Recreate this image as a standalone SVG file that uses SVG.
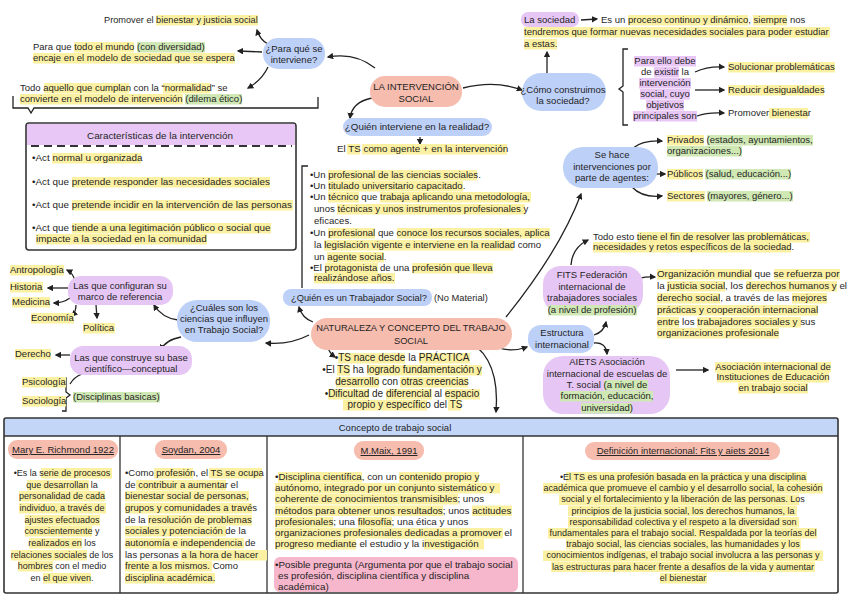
<svg xmlns="http://www.w3.org/2000/svg" width="848" height="599" viewBox="0 0 848 599">
<defs>
<marker id="ah" viewBox="0 0 10 10" refX="8" refY="5" markerWidth="6.5" markerHeight="6.5" markerUnits="userSpaceOnUse" orient="auto"><path d="M0,0 L10,5 L0,10 z" fill="#222"/></marker>
<style>
.t{font-family:"Liberation Sans",Arial,sans-serif;font-size:9.5px;fill:#1f1f1f}
.c{text-anchor:middle}
.u{text-decoration:underline}
.hy{fill:#fcf1a2}
.hg{fill:#cfe8b4}
.hp{fill:#e8c7f6}
.nb{fill:#bdd0f8}
.ns{fill:#f6bcae}
.np{fill:#e6c6f5}
.cn{fill:none;stroke:#222;stroke-width:1.3;marker-end:url(#ah)}
.ln{fill:none;stroke:#222;stroke-width:1.3}
</style>
</defs>
<rect width="848" height="599" fill="#ffffff"/>

<!-- connectors -->
<g id="connectors">
<path class="cn" d="M268,44 Q260,40 257,30"/>
<path class="cn" d="M262,52 L238,51"/>
<path class="cn" d="M268,67 Q262,80 248,88"/>
<path class="cn" d="M375,68 Q355,52 328,57"/>
<path class="cn" d="M463,88 Q495,80 522,90"/>
<path class="cn" d="M372,98 Q352,102 350,118"/>
<path class="cn" d="M420,137 L420,144"/>
<path class="cn" d="M581,20 L597,19"/>
<path class="cn" d="M547,75 L547,52"/>
<path class="cn" d="M695,72 Q708,66 724,67"/>
<path class="cn" d="M695,90 L724,90"/>
<path class="cn" d="M697,116 Q708,112 724,113"/>
<path class="cn" d="M633,148 Q643,140 662,141"/>
<path class="cn" d="M656,174 L665,174"/>
<path class="cn" d="M632,187 Q642,198 662,196"/>
<path class="cn" d="M506,317 Q560,250 581,194"/>
<path class="cn" d="M571,265 Q572,248 588,240"/>
<path class="cn" d="M632,282 Q640,276 655,277"/>
<path class="cn" d="M594,335 Q604,332 606,322"/>
<path class="cn" d="M594,343 Q606,342 607,354"/>
<path class="cn" d="M676,370 L708,370"/>
<path class="cn" d="M313,322 Q302,318 299,307"/>
<path class="cn" d="M328,346 Q328,352 335,357"/>
<path class="cn" d="M485,341 Q505,355 527,347"/>
<path class="cn" d="M470,342 Q500,360 496,412"/>
<path class="cn" d="M309,335 Q290,345 266,343"/>
<path class="cn" d="M178,320 Q162,318 154,305"/>
<path class="cn" d="M181,337 Q165,340 161,350"/>
<path class="cn" d="M75,281 Q73,273 67,270"/>
<path class="cn" d="M68,288 L48,288"/>
<path class="cn" d="M70,298 Q63,303 54,303"/>
<path class="cn" d="M76,305 Q76,312 72,316"/>
<path class="cn" d="M96,305 L97,318"/>
<path class="cn" d="M70,355 L56,355"/>
<path class="ln" d="M70,384 Q74,377 82,374"/>
<!-- brackets -->
<path class="ln" d="M13,96 L13,108 L28,108 L31,113 L34,108 L318,108 L318,97"/>
<path class="ln" d="M628,49 L623,49 L623,86 L619,89 L623,92 L623,125 L628,125"/>
<path class="ln" d="M308,166 L302,166 L302,288"/>
<path class="ln" d="M62,378 L66,378 L66,392 L70,395 L66,398 L66,411 L62,411"/>
</g>

<!-- top-left annotations -->
<g id="para-que-notes">
<rect class="hy" x="156" y="15" width="102" height="10.5"/>
<rect class="hy" x="74" y="42" width="60" height="10.5"/>
<rect class="hg" x="137" y="42" width="68" height="10.5"/>
<rect class="hy" x="33" y="53" width="202" height="10.5"/>
<rect class="hy" x="44" y="83" width="85" height="10.5"/>
<rect class="hy" x="163" y="83" width="47" height="10.5"/>
<rect class="hy" x="20" y="94" width="163" height="10.5"/>
<rect class="hg" x="185" y="94" width="57" height="10.5"/>
<text class="t" x="104" y="23" style="font-size:9.2px">Promover el bienestar y justicia social</text>
<text class="t" x="33" y="50">Para que todo el mundo (con diversidad)</text>
<text class="t" x="33" y="61">encaje en el modelo de sociedad que se espera</text>
<text class="t" x="20" y="91">Todo aquello que cumplan con la “normalidad” se</text>
<text class="t" x="20" y="102">convierte en el modelo de intervención (dilema ético)</text>
</g>

<g id="para-que">
<rect class="nb" x="263" y="38" width="62" height="31" rx="15"/>
<text class="t c" x="294" y="52">¿Para qué se</text>
<text class="t c" x="294" y="63">interviene?</text>
</g>

<g id="intervencion-social">
<rect class="ns" x="370" y="76" width="92" height="31" rx="15"/>
<text class="t c" x="416" y="90">LA INTERVENCIÓN</text>
<text class="t c" x="416" y="102">SOCIAL</text>
</g>

<g id="quien-interviene">
<rect class="nb" x="343" y="118" width="149" height="18" rx="9"/>
<text class="t c" x="417" y="130" style="font-size:9.8px">¿Quién interviene en la realidad?</text>
</g>
<g id="ts-agente">
<rect class="hy" x="347" y="144" width="13" height="10.5"/>
<rect class="hy" x="362" y="144" width="145" height="10.5"/>
<text class="t" x="337" y="152" style="font-size:9.8px">El TS como agente + en la intervención</text>
</g>

<!-- top-right -->
<g id="la-sociedad">
<rect class="np" x="521" y="12" width="58" height="15" rx="7"/>
<text class="t" x="524" y="23">La sociedad</text>
</g>
<g id="sociedad-def">
<rect class="hy" x="628" y="15" width="120" height="10.5"/>
<rect class="hy" x="753" y="15" width="34" height="10.5"/>
<rect class="hy" x="524" y="27" width="306" height="10.5"/>
<rect class="hy" x="524" y="39" width="33" height="10.5"/>
<text class="t" x="601" y="23">Es un proceso continuo y dinámico, siempre nos</text>
<text class="t" x="524" y="35">tendremos que formar nuevas necesidades sociales para poder estudiar</text>
<text class="t" x="524" y="47">a estas.</text>
</g>
<g id="como-construimos">
<rect class="nb" x="522" y="73" width="84" height="38" rx="19"/>
<text class="t c" x="563" y="93">¿Cómo construimos</text>
<text class="t c" x="563" y="104">la sociedad?</text>
</g>
<g id="para-ello">
<rect class="hp" x="634" y="56" width="62" height="10.5"/>
<rect class="hp" x="654" y="67" width="25" height="10.5"/>
<rect class="hp" x="639" y="78" width="52" height="10.5"/>
<rect class="hp" x="640" y="89" width="50" height="10.5"/>
<rect class="hp" x="646" y="100" width="38" height="10.5"/>
<rect class="hp" x="633" y="111" width="64" height="10.5"/>
<text class="t c" x="665" y="64">Para ello debe</text>
<text class="t c" x="665" y="75">de existir la</text>
<text class="t c" x="665" y="86">intervención</text>
<text class="t c" x="665" y="97">social, cuyo</text>
<text class="t c" x="665" y="108">objetivos</text>
<text class="t c" x="665" y="119">principales son</text>
</g>
<g id="objetivos">
<rect class="hy" x="728" y="62" width="107" height="10.5"/>
<rect class="hy" x="728" y="85" width="96" height="10.5"/>
<rect class="hy" x="769" y="108" width="39" height="10.5"/>
<text class="t" x="728" y="70">Solucionar problemáticas</text>
<text class="t" x="728" y="93">Reducir desigualdades</text>
<text class="t" x="728" y="116">Promover bienestar</text>
</g>

<!-- caracteristicas -->
<g id="caracteristicas">
<rect x="26" y="123" width="270" height="127" rx="3" fill="#fff" stroke="#333" stroke-width="1.6"/>
<rect class="hp" x="27" y="124" width="268" height="21"/>
<line x1="31" y1="146" x2="292" y2="146" stroke="#333" stroke-width="2" stroke-dasharray="8,5"/>
<text class="t c" x="160" y="139" style="font-size:9.9px">Características de la intervención</text>
<rect class="hy" x="52" y="153" width="89" height="10.5"/>
<rect class="hy" x="72" y="177" width="198" height="10.5"/>
<rect class="hy" x="72" y="200" width="221" height="10.5"/>
<rect class="hy" x="72" y="223" width="199" height="10.5"/>
<rect class="hy" x="36" y="234" width="171" height="10.5"/>
<g class="t" style="font-size:9.9px">
<text x="32" y="161">•Act normal u organizada</text>
<text x="32" y="185">•Act que pretende responder las necesidades sociales</text>
<text x="32" y="208">•Act que pretende incidir en la intervención de las personas</text>
<text x="32" y="231">•Act que tiende a una legitimación público o social que</text>
<text x="36" y="242">impacte a la sociedad en la comunidad</text>
</g>
</g>

<!-- quien es TS list -->
<g id="ts-lista">
<rect class="hy" x="328" y="170" width="149" height="10.5"/>
<rect class="hy" x="328" y="181" width="135" height="10.5"/>
<rect class="hy" x="328" y="192" width="31" height="10.5"/>
<rect class="hy" x="380" y="192" width="151" height="10.5"/>
<rect class="hy" x="337" y="204" width="188" height="10.5"/>
<rect class="hy" x="328" y="228" width="47" height="10.5"/>
<rect class="hy" x="397" y="228" width="153" height="10.5"/>
<rect class="hy" x="324" y="240" width="189" height="10.5"/>
<rect class="hy" x="327" y="252" width="57" height="10.5"/>
<rect class="hy" x="325" y="263" width="53" height="10.5"/>
<rect class="hy" x="412" y="263" width="81" height="10.5"/>
<rect class="hy" x="314" y="273" width="81" height="10.5"/>
<g class="t" style="font-size:9.6px">
<text x="310" y="178">•Un profesional de las ciencias sociales.</text>
<text x="310" y="189">•Un titulado universitario capacitado.</text>
<text x="310" y="200">•Un técnico que trabaja aplicando una metodología,</text>
<text x="314" y="212">unos técnicas y unos instrumentos profesionales y</text>
<text x="314" y="224">eficaces.</text>
<text x="310" y="236">•Un profesional que conoce los recursos sociales, aplica</text>
<text x="314" y="248">la legislación vigente e interviene en la realidad como</text>
<text x="314" y="260">un agente social.</text>
<text x="310" y="271">•El protagonista de una profesión que lleva</text>
<text x="314" y="281">realizándose años.</text>
</g>
</g>

<g id="quien-es-ts">
<rect class="nb" x="283" y="289" width="149" height="17" rx="8"/>
<text class="t" x="291" y="301" style="font-size:9.3px">¿Quién es un Trabajador Social?</text>
<text class="t" x="434" y="301" style="font-size:9.3px">(No Material)</text>
</g>

<!-- right middle -->
<g id="se-hace">
<rect class="nb" x="563" y="147" width="95" height="41" rx="20"/>
<text class="t c" x="612" y="158">Se hace</text>
<text class="t c" x="612" y="170">intervenciones por</text>
<text class="t c" x="612" y="181">parte de agentes:</text>
</g>
<g id="agentes">
<rect class="hy" x="667" y="135" width="37" height="10.5"/>
<rect class="hg" x="707" y="135" width="106" height="10.5"/>
<rect class="hg" x="667" y="146" width="75" height="10.5"/>
<rect class="hy" x="667" y="169" width="36" height="10.5"/>
<rect class="hg" x="705" y="169" width="86" height="10.5"/>
<rect class="hy" x="667" y="191" width="38" height="10.5"/>
<rect class="hg" x="707" y="191" width="86" height="10.5"/>
<text class="t" x="667" y="143">Privados (estados, ayuntamientos,</text>
<text class="t" x="667" y="154">organizaciones...)</text>
<text class="t" x="667" y="177">Públicos (salud, educación...)</text>
<text class="t" x="667" y="199">Sectores (mayores, género...)</text>
</g>
<g id="todo-esto">
<rect class="hy" x="638" y="232" width="172" height="10.5"/>
<rect class="hy" x="593" y="242" width="198" height="10.5"/>
<text class="t" x="593" y="240">Todo esto tiene el fin de resolver las problemáticas,</text>
<text class="t" x="593" y="250">necesidades y retos específicos de la sociedad.</text>
</g>
<g id="fits">
<rect class="np" x="543" y="266" width="100" height="47" rx="18"/>
<rect class="hg" x="548" y="305" width="89" height="10.5"/>
<text class="t c" x="592" y="278">FITS Federación</text>
<text class="t c" x="592" y="290">internacional de</text>
<text class="t c" x="592" y="301">trabajadores sociales</text>
<text class="t c" x="592" y="313">(a nivel de profesión)</text>
</g>
<g id="fits-def">
<rect class="hy" x="657" y="269" width="95" height="10.5"/>
<rect class="hy" x="774" y="269" width="66" height="10.5"/>
<rect class="hy" x="667" y="281" width="58" height="10.5"/>
<rect class="hy" x="746" y="281" width="91" height="10.5"/>
<rect class="hy" x="657" y="293" width="63" height="10.5"/>
<rect class="hy" x="792" y="293" width="35" height="10.5"/>
<rect class="hy" x="657" y="305" width="161" height="10.5"/>
<rect class="hy" x="657" y="317" width="22" height="10.5"/>
<rect class="hy" x="697" y="317" width="104" height="10.5"/>
<rect class="hy" x="657" y="328" width="122" height="10.5"/>
<g class="t" style="font-size:9.8px">
<text x="657" y="277">Organización mundial que se refuerza por</text>
<text x="657" y="289">la justicia social, los derechos humanos y el</text>
<text x="657" y="301">derecho social, a través de las mejores</text>
<text x="657" y="313">prácticas y cooperación internacional</text>
<text x="657" y="325">entre los trabajadores sociales y sus</text>
<text x="657" y="336">organizaciones profesionale</text>
</g>
</g>
<g id="estructura">
<rect class="nb" x="528" y="325" width="66" height="28" rx="13"/>
<text class="t c" x="562" y="336">Estructura</text>
<text class="t c" x="562" y="348">internacional</text>
</g>
<g id="aiets">
<rect class="np" x="543" y="356" width="127" height="58" rx="20"/>
<rect class="hg" x="604" y="380" width="44" height="10.5"/>
<rect class="hg" x="560" y="391" width="93" height="10.5"/>
<rect class="hg" x="581" y="403" width="51" height="10.5"/>
<text class="t c" x="607" y="365">AIETS Asociación</text>
<text class="t c" x="607" y="377">internacional de escuelas de</text>
<text class="t c" x="607" y="388">T. social (a nivel de</text>
<text class="t c" x="607" y="399">formación, educación,</text>
<text class="t c" x="607" y="411">universidad)</text>
</g>
<g id="aiets-def">
<rect class="hy" x="715" y="362" width="116" height="10.5"/>
<rect class="hy" x="717" y="372" width="112" height="10.5"/>
<rect class="hy" x="738" y="383" width="70" height="10.5"/>
<text class="t c" x="773" y="370">Asociación internacional de</text>
<text class="t c" x="773" y="380">Instituciones de Educación</text>
<text class="t c" x="773" y="391">en trabajo social</text>
</g>

<!-- center -->
<g id="naturaleza">
<rect class="ns" x="311" y="318" width="201" height="32" rx="16"/>
<text class="t c" x="411" y="331" style="font-size:9.3px">NATURALEZA Y CONCEPTO DEL TRABAJO</text>
<text class="t c" x="411" y="344" style="font-size:9.3px">SOCIAL</text>
</g>
<g id="naturaleza-notes">
<rect class="hy" x="338" y="353" width="67" height="10.5"/>
<rect class="hy" x="419" y="353" width="51" height="10.5"/>
<rect class="hy" x="337" y="365" width="13" height="10.5"/>
<rect class="hy" x="367" y="365" width="115" height="10.5"/>
<rect class="hy" x="336" y="377" width="43" height="10.5"/>
<rect class="hy" x="400" y="377" width="68" height="10.5"/>
<rect class="hy" x="328" y="389" width="41" height="10.5"/>
<rect class="hy" x="386" y="389" width="46" height="10.5"/>
<rect class="hy" x="445" y="389" width="35" height="10.5"/>
<rect class="hy" x="343" y="400" width="84" height="10.5"/>
<rect class="hy" x="448" y="400" width="13" height="10.5"/>
<g class="t c" style="font-size:10px">
<text x="402" y="361">•TS nace desde la PRÁCTICA</text>
<text x="402" y="373">•El TS ha logrado fundamentación y</text>
<text x="402" y="385">desarrollo con otras creencias</text>
<text x="402" y="397">•Dificultad de diferencial al espacio</text>
<text x="405" y="408">propio y específico del TS</text>
</g>
</g>

<!-- left lower -->
<g id="cuales">
<rect class="nb" x="177" y="300" width="93" height="42" rx="20"/>
<text class="t c" x="224" y="311">¿Cuáles son los</text>
<text class="t c" x="224" y="322">ciencias que influyen</text>
<text class="t c" x="224" y="333">en Trabajo Social?</text>
</g>
<g id="configuran">
<rect class="np" x="68" y="276" width="105" height="29" rx="13"/>
<text class="t c" x="120" y="289">Las que configuran su</text>
<text class="t c" x="120" y="300">marco de referencia</text>
</g>
<g id="disciplinas-marco">
<rect class="hy" x="10" y="265" width="54" height="10.5"/>
<rect class="hy" x="10" y="282" width="33" height="10.5"/>
<rect class="hy" x="12" y="297" width="38" height="10.5"/>
<rect class="hy" x="31" y="313" width="43" height="10.5"/>
<rect class="hy" x="83" y="323" width="32" height="10.5"/>
<text class="t" x="10" y="273">Antropología</text>
<text class="t" x="10" y="290">Historia</text>
<text class="t" x="12" y="305">Medicina</text>
<text class="t" x="31" y="321">Economía</text>
<text class="t" x="83" y="331">Política</text>
</g>
<g id="construye">
<rect class="np" x="70" y="346" width="122" height="29" rx="13"/>
<text class="t c" x="131" y="361">Las que construye su base</text>
<text class="t c" x="131" y="372">científico—conceptual</text>
</g>
<g id="disciplinas-base">
<rect class="hy" x="15" y="349" width="36" height="10.5"/>
<rect class="hy" x="22" y="377" width="44" height="10.5"/>
<rect class="hy" x="22" y="396" width="44" height="10.5"/>
<rect class="hg" x="73" y="392" width="87" height="10.5"/>
<text class="t" x="15" y="357">Derecho</text>
<text class="t" x="22" y="385">Psicología</text>
<text class="t" x="22" y="404">Sociología</text>
<text class="t" x="73" y="400">(Disciplinas basicas)</text>
</g>

<!-- table -->
<g id="concepto-tabla">
<rect x="4" y="418" width="834" height="18" fill="#c3d6f8"/>
<rect x="4" y="418" width="834" height="175" rx="2" fill="none" stroke="#333" stroke-width="1.6"/>
<line x1="4" y1="436" x2="838" y2="436" stroke="#333" stroke-width="1.4"/>
<line x1="120" y1="436" x2="120" y2="593" stroke="#333" stroke-width="1.3"/>
<line x1="267" y1="436" x2="267" y2="593" stroke="#333" stroke-width="1.3"/>
<line x1="523" y1="436" x2="523" y2="593" stroke="#333" stroke-width="1.3"/>
<text class="t c" x="395" y="431">Concepto de trabajo social</text>
</g>

<g id="richmond">
<rect class="ns" x="8" y="440" width="110" height="19" rx="9"/>
<text class="t c u" x="63" y="453">Mary E. Richmond 1922</text>
<rect class="hy" x="41" y="468" width="71" height="10.5"/>
<rect class="hy" x="27" y="480" width="62" height="10.5"/>
<rect class="hy" x="19" y="491" width="86" height="10.5"/>
<rect class="hy" x="19" y="503" width="87" height="10.5"/>
<rect class="hy" x="25" y="515" width="75" height="10.5"/>
<rect class="hy" x="25" y="526" width="67" height="10.5"/>
<rect class="hy" x="29" y="538" width="53" height="10.5"/>
<rect class="hy" x="11" y="550" width="76" height="10.5"/>
<rect class="hy" x="18" y="561" width="35" height="10.5"/>
<rect class="hy" x="43" y="573" width="48" height="10.5"/>
<g class="t c" style="font-size:9px">
<text x="62" y="476">•Es la serie de procesos</text>
<text x="62" y="487.7">que desarrollan la</text>
<text x="62" y="499.3">personalidad de cada</text>
<text x="62" y="511">individuo, a través de</text>
<text x="62" y="522.7">ajustes efectuados</text>
<text x="62" y="534.3">conscientemente y</text>
<text x="62" y="546">realizados en los</text>
<text x="62" y="557.7">relaciones sociales de los</text>
<text x="62" y="569.3">hombres con el medio</text>
<text x="62" y="581">en el que viven.</text>
</g>
</g>

<g id="soydan">
<rect class="ns" x="155" y="440" width="72" height="19" rx="9"/>
<text class="t c u" x="191" y="453">Soydan, 2004</text>
<rect class="hy" x="154" y="468" width="39" height="10.5"/>
<rect class="hy" x="209" y="468" width="53" height="10.5"/>
<rect class="hy" x="136" y="480" width="90" height="10.5"/>
<rect class="hy" x="125" y="491" width="124" height="10.5"/>
<rect class="hy" x="125" y="503" width="127" height="10.5"/>
<rect class="hy" x="148" y="515" width="104" height="10.5"/>
<rect class="hy" x="125" y="526" width="101" height="10.5"/>
<rect class="hy" x="125" y="538" width="119" height="10.5"/>
<rect class="hy" x="181" y="550" width="86" height="10.5"/>
<rect class="hy" x="125" y="561" width="87" height="10.5"/>
<rect class="hy" x="125" y="573" width="90" height="10.5"/>
<g class="t">
<text x="125" y="476">•Como profesión, el TS se ocupa</text>
<text x="125" y="487.7">de contribuir a aumentar el</text>
<text x="125" y="499.3">bienestar social de personas,</text>
<text x="125" y="511">grupos y comunidades a través</text>
<text x="125" y="522.7">de la resolución de problemas</text>
<text x="125" y="534.3">sociales y potenciación de la</text>
<text x="125" y="546">autonomía e independencia de</text>
<text x="125" y="557.7">las personas a la hora de hacer</text>
<text x="125" y="569.3">frente a los mismos. Como</text>
<text x="125" y="581">disciplina académica.</text>
</g>
</g>

<g id="maix">
<rect class="ns" x="354" y="441" width="70" height="19" rx="9"/>
<text class="t c u" x="389" y="454">M.Maix, 1991</text>
<rect class="hy" x="278" y="472" width="84" height="10.5"/>
<rect class="hy" x="399" y="472" width="80" height="10.5"/>
<rect class="hy" x="275" y="483" width="225" height="10.5"/>
<rect class="hy" x="275" y="494" width="183" height="10.5"/>
<rect class="hy" x="275" y="505.5" width="168" height="10.5"/>
<rect class="hy" x="472" y="505.5" width="40" height="10.5"/>
<rect class="hy" x="275" y="517" width="58" height="10.5"/>
<rect class="hy" x="358" y="517" width="34" height="10.5"/>
<rect class="hy" x="275" y="528" width="228" height="10.5"/>
<rect class="hy" x="275" y="539" width="81" height="10.5"/>
<rect class="hy" x="424" y="539" width="60" height="10.5"/>
<g class="t" style="font-size:9.8px">
<text x="275" y="480">•Disciplina científica, con un contenido propio y</text>
<text x="275" y="491">autónomo, integrado por un conjunto sistemático y</text>
<text x="275" y="502">coherente de conocimientos transmisibles; unos</text>
<text x="275" y="513.5">métodos para obtener unos resultados; unos actitudes</text>
<text x="275" y="525">profesionales; una filosofía; una ética y unos</text>
<text x="275" y="536">organizaciones profesionales dedicadas a promover el</text>
<text x="275" y="547">progreso mediante el estudio y la investigación</text>
</g>
<rect x="274" y="557" width="244" height="35" rx="6" fill="#f6b6cc"/>
<g class="t" style="font-size:9.8px">
<text x="275" y="568">•Posible pregunta (Argumenta por que el trabajo social</text>
<text x="278" y="579">es profesión, disciplina científica y disciplina</text>
<text x="278" y="590">académica)</text>
</g>
</g>

<g id="definicion-internacional">
<rect class="ns" x="585" y="442" width="195" height="18" rx="9"/>
<text class="t c u" x="683" y="454">Definición internacional: Fits y aiets 2014</text>
<rect class="hy" x="566" y="472" width="241" height="10.5"/>
<rect class="hy" x="543" y="483" width="280" height="10.5"/>
<rect class="hy" x="559" y="494.5" width="240" height="10.5"/>
<rect class="hy" x="568" y="505.5" width="229" height="10.5"/>
<rect class="hy" x="568" y="517" width="231" height="10.5"/>
<rect class="hy" x="548" y="528" width="269" height="10.5"/>
<rect class="hy" x="566" y="539" width="235" height="10.5"/>
<rect class="hy" x="543" y="550.5" width="280" height="10.5"/>
<rect class="hy" x="551" y="561.5" width="264" height="10.5"/>
<rect class="hy" x="660" y="573" width="47" height="10.5"/>
<g class="t c" style="font-size:9px">
<text x="683" y="480">•El TS es una profesión basada en la práctica y una disciplina</text>
<text x="683" y="491.2">académica que promueve el cambio y el desarrollo social, la cohesión</text>
<text x="683" y="502.4">social y el fortalecimiento y la liberación de las personas. Los</text>
<text x="683" y="513.6">principios de la justicia social, los derechos humanos, la</text>
<text x="683" y="524.8">responsabilidad colectiva y el respeto a la diversidad son</text>
<text x="683" y="536">fundamentales para el trabajo social. Respaldada por la teorías del</text>
<text x="683" y="547.2">trabajo social, las ciencias sociales, las humanidades y los</text>
<text x="683" y="558.4">conocimientos indígenas, el trabajo social involucra a las personas y</text>
<text x="683" y="569.6">las estructuras para hacer frente a desafíos de la vida y aumentar</text>
<text x="683" y="580.8">el bienestar</text>
</g>
</g>
</svg>
